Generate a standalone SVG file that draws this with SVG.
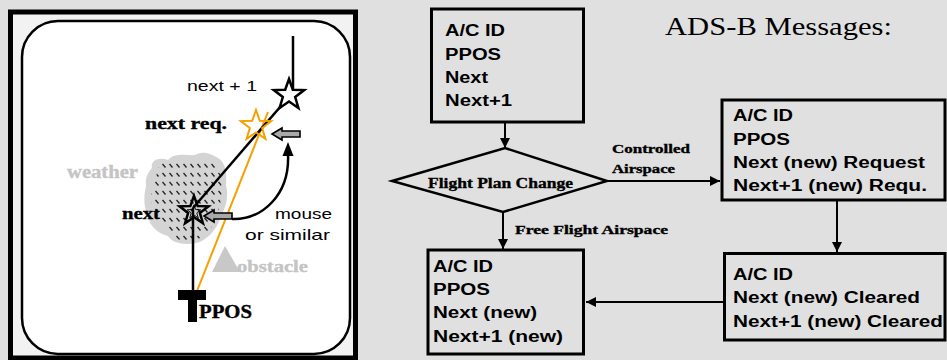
<svg xmlns="http://www.w3.org/2000/svg" width="947" height="360" viewBox="0 0 947 360">
<style>
.box{fill:none;stroke:#000;stroke-width:3}
.bt{font-family:"Liberation Sans",Arial,sans-serif;font-weight:bold;font-size:16px;fill:#000}
.st{font-family:"Liberation Serif","Times New Roman",serif;font-weight:bold;fill:#000;stroke:#000;stroke-width:0.35}
.lg{font-family:"Liberation Serif","Times New Roman",serif;font-weight:bold;fill:#c4c4c4;stroke:#c4c4c4;stroke-width:0.35}
.ss{font-family:"Liberation Sans",Arial,sans-serif;font-size:15px;fill:#000}
.con{fill:none;stroke:#000;stroke-width:2}
.garrow{fill:#a9a9a9;stroke:#000;stroke-width:1.6}
</style>
<defs>
<marker id="ah" markerUnits="userSpaceOnUse" markerWidth="11" markerHeight="11" refX="10" refY="5" orient="auto">
<path d="M0,0 L10,5 L0,10 Z" fill="#000"/>
</marker>
<path id="star" d="M0,-16 L3.82,-5.26 L15.22,-4.94 L6.18,2.01 L9.40,12.94 L0,6.5 L-9.40,12.94 L-6.18,2.01 L-15.22,-4.94 L-3.82,-5.26 Z"/>
<path id="blk" d="M0,0 L10,-6 L10,-3 L28,-3 L28,3 L10,3 L10,6 Z"/>
<pattern id="hatch" patternUnits="userSpaceOnUse" width="7" height="9">
<line x1="1.5" y1="2" x2="4.5" y2="5.5" stroke="#222" stroke-width="1.3"/>
</pattern>
</defs>
<rect width="947" height="360" fill="#e0e0e0"/>

<g id="map">
<rect x="10.5" y="12" width="345" height="346" fill="#f2f2f2" stroke="#000" stroke-width="5"/>
<rect x="22" y="21" width="328" height="333" rx="36" fill="#fff" stroke="#000" stroke-width="2.5"/>
<path d="M152,168 C150,160 160,157 168,160 C175,152 188,156 195,155 C203,150 212,154 218,158 C226,162 227,175 226,185 C229,196 226,206 222,214 C218,226 212,236 200,242 C188,246 172,244 168,236 C160,234 150,228 148,216 C143,206 144,195 146,186 C145,178 148,172 152,168 Z" fill="#d4d4d4"/>
<path d="M160,163 L216,161 C222,175 224,195 218,212 C214,228 205,238 190,242 C176,242 170,234 168,226 C154,220 150,205 152,190 Z" fill="url(#hatch)"/>
<text class="lg" x="67" y="178" font-size="18" textLength="71" lengthAdjust="spacingAndGlyphs">weather</text>
<polygon points="225,246 212,272 240,272" fill="#c8c8c8"/>
<text class="lg" x="237" y="272" font-size="17" textLength="71" lengthAdjust="spacingAndGlyphs">obstacle</text>
<line x1="293" y1="36" x2="293" y2="92" stroke="#000" stroke-width="2.5"/>
<line x1="197" y1="291" x2="268" y2="112" stroke="#f5a000" stroke-width="2"/>
<line x1="287" y1="99" x2="193" y2="208" stroke="#000" stroke-width="2.5"/>
<line x1="193" y1="208" x2="193" y2="292" stroke="#000" stroke-width="2.5"/>
<use href="#star" transform="translate(289,95)" fill="#fff" stroke="#000" stroke-width="2.5"/>
<use href="#star" transform="translate(256,126)" fill="none" stroke="#f5a000" stroke-width="2"/>
<use href="#star" transform="translate(194,211) scale(0.95)" fill="none" stroke="#000" stroke-width="2.6"/>
<use href="#star" transform="translate(194,212) scale(0.45)" fill="none" stroke="#000" stroke-width="2"/>
<use href="#blk" transform="translate(272,134)" class="garrow"/>
<use href="#blk" transform="translate(204,216)" class="garrow"/>
<path d="M232,219 C262,220 290,195 288,154" fill="none" stroke="#000" stroke-width="2.5"/>
<polygon points="288,142 282.5,156 293.5,156" fill="#000"/>
<text class="ss" x="187" y="91" textLength="70" lengthAdjust="spacingAndGlyphs">next + 1</text>
<text class="st" x="145" y="129" font-size="17" textLength="82" lengthAdjust="spacingAndGlyphs">next req.</text>
<text class="st" x="122" y="219" font-size="17" textLength="38" lengthAdjust="spacingAndGlyphs">next</text>
<text class="ss" x="275" y="219" textLength="57" lengthAdjust="spacingAndGlyphs">mouse</text>
<text class="ss" x="245" y="240" textLength="85" lengthAdjust="spacingAndGlyphs">or similar</text>
<rect x="178" y="290" width="28" height="10" fill="#000"/>
<rect x="188" y="298" width="9" height="24" fill="#000"/>
<text class="st" x="199" y="318" font-size="18" textLength="53" lengthAdjust="spacingAndGlyphs">PPOS</text>
</g>

<text id="title" x="665" y="35" font-family="'Liberation Serif','Times New Roman',serif" font-size="26" fill="#000" textLength="227" lengthAdjust="spacingAndGlyphs">ADS-B Messages:</text>

<g id="box1">
<rect class="box" x="431.5" y="9" width="152" height="113"/>
<text class="bt" x="445" y="36" textLength="60" lengthAdjust="spacingAndGlyphs">A/C ID</text>
<text class="bt" x="445" y="60" textLength="56" lengthAdjust="spacingAndGlyphs">PPOS</text>
<text class="bt" x="445" y="83" textLength="43" lengthAdjust="spacingAndGlyphs">Next</text>
<text class="bt" x="445" y="106" textLength="67" lengthAdjust="spacingAndGlyphs">Next+1</text>
</g>

<g id="decision">
<polygon points="392,181 505,148 607,181 503,212" fill="none" stroke="#000" stroke-width="2.5"/>
<text class="st" x="428" y="188" font-size="15" textLength="145" lengthAdjust="spacingAndGlyphs">Flight Plan Change</text>
</g>

<g id="box2">
<rect class="box" x="722" y="100" width="223" height="100" stroke-width="2.5"/>
<text class="bt" x="733" y="121" textLength="60" lengthAdjust="spacingAndGlyphs">A/C ID</text>
<text class="bt" x="733" y="145" textLength="57" lengthAdjust="spacingAndGlyphs">PPOS</text>
<text class="bt" x="733" y="168" textLength="192" lengthAdjust="spacingAndGlyphs">Next (new) Request</text>
<text class="bt" x="733" y="191" textLength="194" lengthAdjust="spacingAndGlyphs">Next+1 (new) Requ.</text>
</g>

<g id="box3">
<rect class="box" x="724.5" y="253.5" width="220.5" height="86.5" stroke-width="2.5"/>
<text class="bt" x="733" y="280" textLength="60" lengthAdjust="spacingAndGlyphs">A/C ID</text>
<text class="bt" x="733" y="303" textLength="187" lengthAdjust="spacingAndGlyphs">Next (new) Cleared</text>
<text class="bt" x="733" y="327" textLength="210" lengthAdjust="spacingAndGlyphs">Next+1 (new) Cleared</text>
</g>

<g id="box4">
<rect class="box" x="428" y="250" width="155.5" height="104"/>
<text class="bt" x="433" y="272" textLength="60" lengthAdjust="spacingAndGlyphs">A/C ID</text>
<text class="bt" x="433" y="295" textLength="57" lengthAdjust="spacingAndGlyphs">PPOS</text>
<text class="bt" x="433" y="318" textLength="104" lengthAdjust="spacingAndGlyphs">Next (new)</text>
<text class="bt" x="433" y="342" textLength="130" lengthAdjust="spacingAndGlyphs">Next+1 (new)</text>
</g>

<g id="connectors">
<path class="con" d="M505,123 L505,148" marker-end="url(#ah)"/>
<path class="con" d="M607,181 L720,181" marker-end="url(#ah)"/>
<path class="con" d="M503,212 L503,249" marker-end="url(#ah)"/>
<path class="con" d="M837,201 L837,252" marker-end="url(#ah)"/>
<path class="con" d="M723,302 L586,302" marker-end="url(#ah)"/>
<text class="st" x="612" y="153" font-size="13" textLength="78" lengthAdjust="spacingAndGlyphs">Controlled</text>
<text class="st" x="612" y="173" font-size="13" textLength="63" lengthAdjust="spacingAndGlyphs">Airspace</text>
<text class="st" x="515" y="234" font-size="13" textLength="153" lengthAdjust="spacingAndGlyphs">Free Flight Airspace</text>
</g>
</svg>
